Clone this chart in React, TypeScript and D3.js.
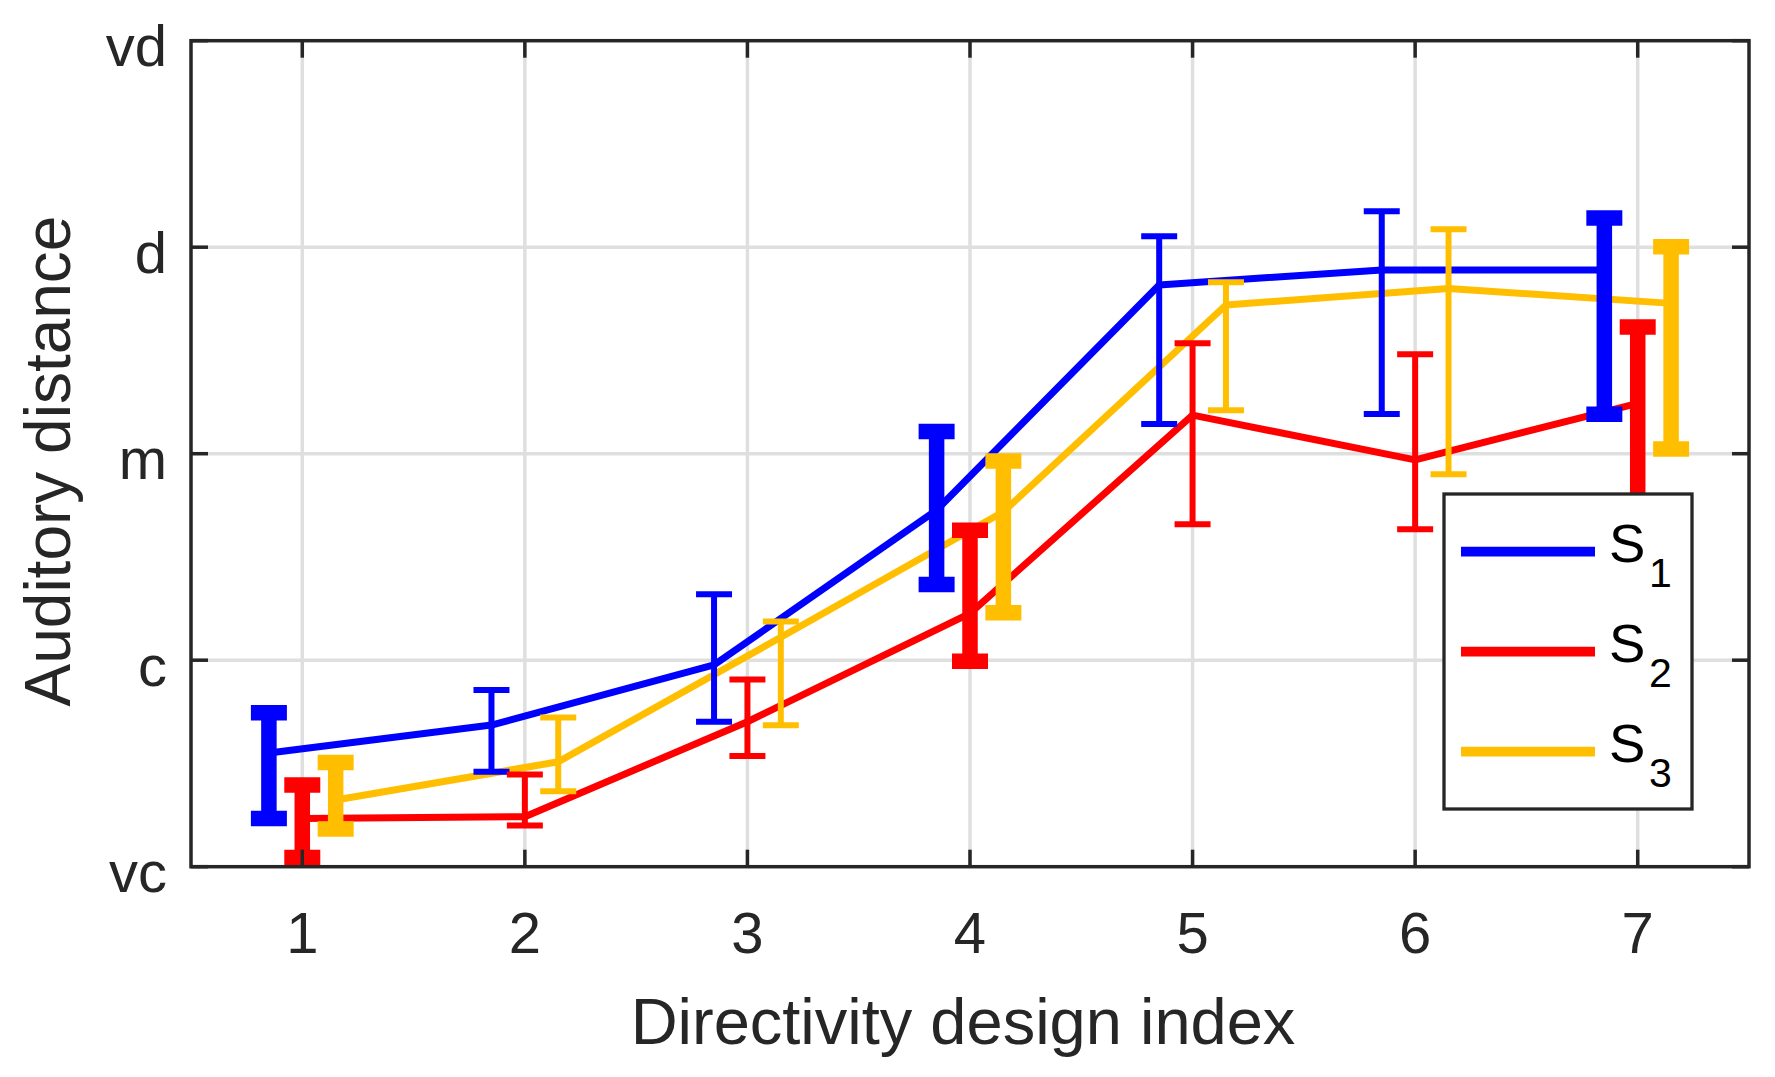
import * as d3 from 'd3'

// design index on the x axis, y values on a 0..4 scale (vc .. vd)
const designs = [1, 2, 3, 4, 5, 6, 7]
const thickDesigns = [1, 4, 7]
const yTickLabels = ['vc', 'c', 'm', 'd', 'vd']
const seriesLabels = ['1', '2', '3']
const seriesColors = ['#0000ff', '#ff0000', '#ffbf00']
const seriesOffsets = [-0.15, 0, 0.15]

const s1Mean = [0.551, 0.686, 0.977, 1.727, 2.817, 2.89, 2.89]
const s1Low = [0.234, 0.46, 0.702, 1.366, 2.144, 2.192, 2.191]
const s1High = [0.746, 0.856, 1.319, 2.107, 3.053, 3.174, 3.141]

const s2Mean = [0.234, 0.242, 0.702, 1.227, 2.187, 1.97, 2.244]
const s2Low = [0.044, 0.2, 0.536, 0.995, 1.658, 1.634, 1.55]
const s2High = [0.396, 0.447, 0.907, 1.629, 2.535, 2.481, 2.613]

const s3Mean = [0.323, 0.508, 1.111, 1.719, 2.72, 2.8, 2.728]
const s3Low = [0.183, 0.365, 0.685, 1.23, 2.21, 1.9, 2.023]
const s3High = [0.504, 0.723, 1.188, 1.965, 2.83, 3.087, 3.002]

const W = 1775
const H = 1077
const plot = { left: 191, right: 1749, top: 40.7, bottom: 866.7 }
const axisColor = '#262626'
const gridColor = '#dfdfdf'
const font = '"Liberation Sans", Arial, Helvetica, sans-serif'

export default function App() {
  const x = d3.scaleLinear().domain([0.5, 7.5]).range([plot.left, plot.right])
  const y = d3.scaleLinear().domain([0, 4]).range([plot.bottom, plot.top])

  const series = [
    { mean: s1Mean, low: s1Low, high: s1High },
    { mean: s2Mean, low: s2Low, high: s2High },
    { mean: s3Mean, low: s3Low, high: s3High },
  ].map((s, i) => ({
    ...s,
    label: seriesLabels[i],
    color: seriesColors[i],
    offset: seriesOffsets[i],
  }))

  const line = d3
    .line<[number, number]>()
    .x(d => x(d[0]))
    .y(d => y(d[1]))

  const yTicks = d3.range(yTickLabels.length)
  const capHalf = 18
  const tickLen = 17

  return (
    <div style={{ position: 'absolute', left: 0, top: 0 }}>
      <svg width={W} height={H} viewBox={`0 0 ${W} ${H}`} style={{ display: 'block', background: '#fff' }}>
        {/* grid */}
        {designs.map(d => (
          <line key={`gx${d}`} x1={x(d)} x2={x(d)} y1={plot.top} y2={plot.bottom} stroke={gridColor} strokeWidth={3.5} />
        ))}
        {yTicks.slice(1, -1).map(v => (
          <line key={`gy${v}`} x1={plot.left} x2={plot.right} y1={y(v)} y2={y(v)} stroke={gridColor} strokeWidth={3.5} />
        ))}

        {/* series lines */}
        {series.map(s => (
          <path
            key={`l${s.label}`}
            d={line(designs.map((d, i) => [d + s.offset, s.mean[i]] as [number, number])) ?? ''}
            fill="none"
            stroke={s.color}
            strokeWidth={7}
            strokeLinejoin="round"
          />
        ))}

        {/* error bars */}
        {series.map(s => (
          <g key={`e${s.label}`} stroke={s.color} strokeLinecap="butt">
            {designs.map((d, i) => {
              const cx = x(d + s.offset)
              const w = thickDesigns.includes(d) ? 15.5 : 6
              return (
                <g key={d} strokeWidth={w}>
                  <line x1={cx} x2={cx} y1={y(s.low[i])} y2={y(s.high[i])} />
                  <line x1={cx - capHalf} x2={cx + capHalf} y1={y(s.low[i])} y2={y(s.low[i])} />
                  <line x1={cx - capHalf} x2={cx + capHalf} y1={y(s.high[i])} y2={y(s.high[i])} />
                </g>
              )
            })}
          </g>
        ))}

        {/* ticks */}
        <g stroke={axisColor} strokeWidth={3.5}>
          {designs.map(d => (
            <g key={`tx${d}`}>
              <line x1={x(d)} x2={x(d)} y1={plot.bottom} y2={plot.bottom - tickLen} />
              <line x1={x(d)} x2={x(d)} y1={plot.top} y2={plot.top + tickLen} />
            </g>
          ))}
          {yTicks.map(v => (
            <g key={`ty${v}`}>
              <line x1={plot.left} x2={plot.left + tickLen} y1={y(v)} y2={y(v)} />
              <line x1={plot.right} x2={plot.right - tickLen} y1={y(v)} y2={y(v)} />
            </g>
          ))}
        </g>

        {/* axes box */}
        <rect
          x={plot.left}
          y={plot.top}
          width={plot.right - plot.left}
          height={plot.bottom - plot.top}
          fill="none"
          stroke={axisColor}
          strokeWidth={3.5}
        />

        {/* tick labels */}
        <g fontFamily={font} fontSize={58} fill={axisColor}>
          {designs.map(d => (
            <text key={`lx${d}`} x={x(d)} y={953} textAnchor="middle">
              {d}
            </text>
          ))}
          {yTicks.map(v => (
            <text key={`ly${v}`} x={167} y={y(v) + 25.5} textAnchor="end">
              {yTickLabels[v]}
            </text>
          ))}
        </g>

        {/* axis labels */}
        <text x={963} y={1044} textAnchor="middle" fontFamily={font} fontSize={65} fill={axisColor}>
          Directivity design index
        </text>
        <text
          transform="translate(70,461) rotate(-90)"
          textAnchor="middle"
          fontFamily={font}
          fontSize={64}
          fill={axisColor}
        >
          Auditory distance
        </text>

        {/* legend */}
        <g>
          <rect x={1444} y={494} width={248} height={315} fill="#fff" stroke={axisColor} strokeWidth={3.3} />
          {series.map((s, i) => {
            const ly = 551.7 + i * 100
            return (
              <g key={`lg${s.label}`}>
                <line x1={1461} x2={1595} y1={ly} y2={ly} stroke={s.color} strokeWidth={9.7} />
                <text x={1609} y={ly + 10} fontFamily={font} fontSize={54.5} fill="#000">
                  S
                </text>
                <text x={1649} y={ly + 35} fontFamily={font} fontSize={41} fill="#000">
                  {s.label}
                </text>
              </g>
            )
          })}
        </g>
      </svg>
    </div>
  )
}
